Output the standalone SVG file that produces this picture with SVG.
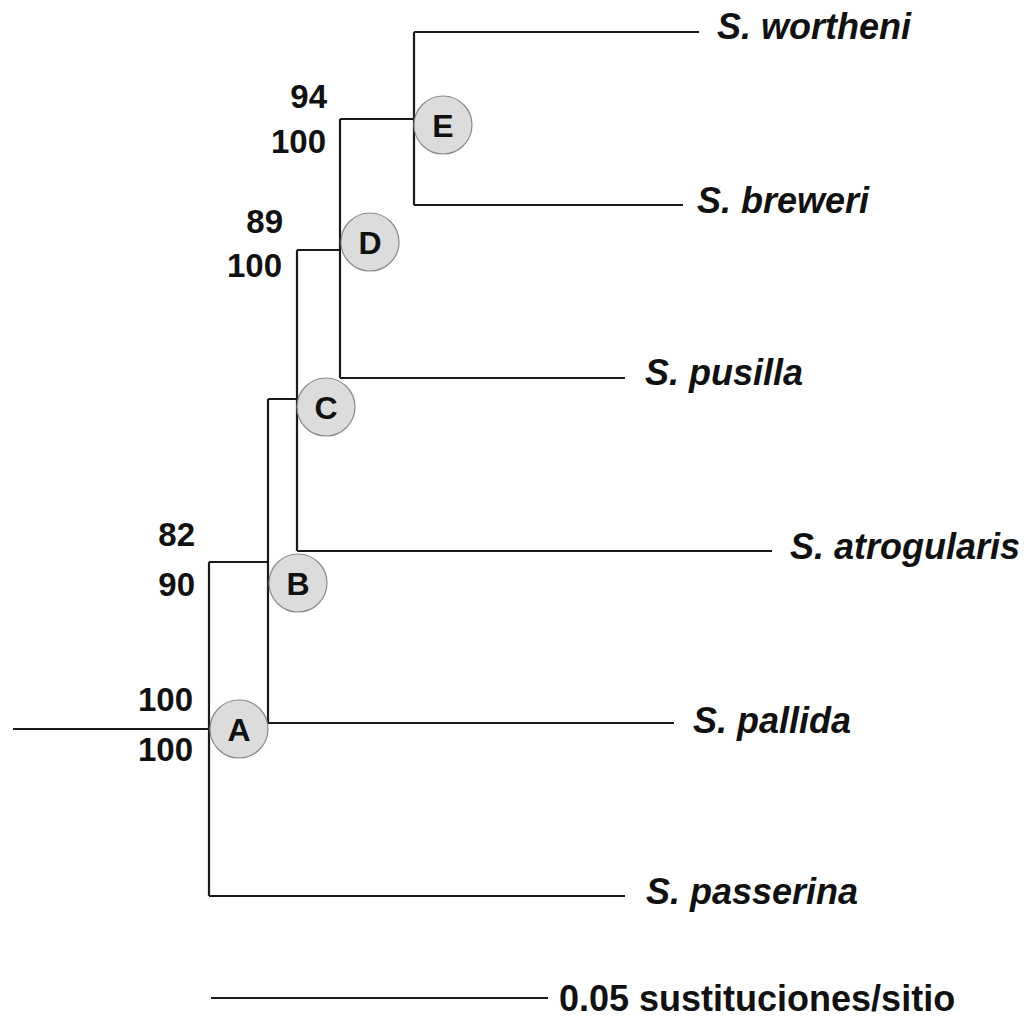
<svg xmlns="http://www.w3.org/2000/svg" width="1027" height="1024" viewBox="0 0 1027 1024">
<style>
.br{fill:none;stroke:#1a1a1a;stroke-width:2.2}
.nd{fill:#dcdcdc;stroke:#8a8a8a;stroke-width:1.2}
.nl{font-family:"Liberation Sans",Arial,sans-serif;font-weight:bold;font-size:32px;fill:#111;text-anchor:middle}
.tx{font-family:"Liberation Sans",Arial,sans-serif;font-weight:bold;font-style:italic;font-size:36px;fill:#111}
.sp{font-family:"Liberation Sans",Arial,sans-serif;font-weight:bold;font-size:33px;fill:#111;text-anchor:end}
.sc{font-family:"Liberation Sans",Arial,sans-serif;font-weight:bold;font-size:36px;fill:#111}
</style>
<rect width="1027" height="1024" fill="#fff"/>
<g id="connectors">
<path class="br" d="M13,729H209M209,562V896M209,562H268M209,896H625M268,399V723M268,723H674M268,399H297M297,250V551M297,551H772M297,250H340M340,119V378M340,378H625M340,119H414M414,32V205M414,32H699M414,205H683"/>
</g>
<g id="node-A"><circle class="nd" cx="239" cy="729" r="29"/><text class="nl" x="239" y="741">A</text></g>
<g id="node-B"><circle class="nd" cx="298" cy="583" r="29"/><text class="nl" x="298" y="595">B</text></g>
<g id="node-C"><circle class="nd" cx="326" cy="407" r="29"/><text class="nl" x="326" y="419">C</text></g>
<g id="node-D"><circle class="nd" cx="370" cy="242" r="29"/><text class="nl" x="370" y="254">D</text></g>
<g id="node-E"><circle class="nd" cx="443" cy="125" r="29"/><text class="nl" x="443" y="137">E</text></g>
<g id="taxa">
<text class="tx" x="717" y="39">S. wortheni</text>
<text class="tx" x="697" y="213">S. breweri</text>
<text class="tx" x="645" y="385">S. pusilla</text>
<text class="tx" x="790" y="559">S. atrogularis</text>
<text class="tx" x="693" y="733">S. pallida</text>
<text class="tx" x="646" y="904">S. passerina</text>
</g>
<g id="support">
<text class="sp" x="327" y="108">94</text>
<text class="sp" x="326" y="153">100</text>
<text class="sp" x="283" y="233">89</text>
<text class="sp" x="282" y="277">100</text>
<text class="sp" x="195" y="546">82</text>
<text class="sp" x="195" y="596">90</text>
<text class="sp" x="193" y="711">100</text>
<text class="sp" x="193" y="761">100</text>
</g>
<g id="scale">
<path class="br" d="M211,998H548"/>
<text class="sc" x="559" y="1011">0.05 sustituciones/sitio</text>
</g>
</svg>
